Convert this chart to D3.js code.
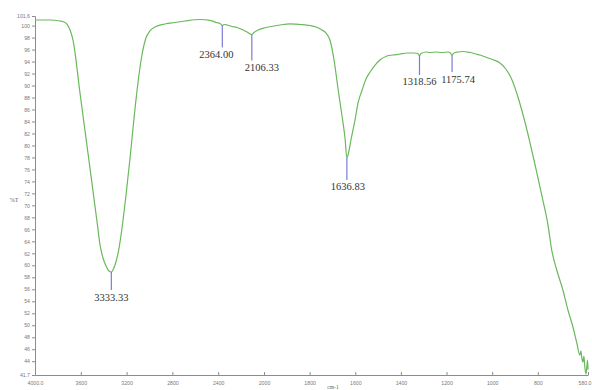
<!DOCTYPE html>
<html>
<head>
<meta charset="utf-8">
<script src="https://cdn.jsdelivr.net/npm/d3@7/dist/d3.min.js"></script>
<style>
  html, body { margin: 0; padding: 0; background: #fff; }
  svg { display: block; }
</style>
</head>
<body>
<svg id="chart" width="592" height="390"></svg>
<script>
// FTIR spectrum: wavenumber (cm-1) vs transmittance (%T)
const wavenumber = [
  4000, 3869, 3782, 3747, 3721, 3694, 3668, 3607, 3520, 3458, 3432, 3406, 3380, 3354,
  3333.33, 3319, 3293, 3266, 3240, 3205, 3170, 3135, 3100, 3066, 3031, 2996, 2952,
  2865, 2778, 2690, 2559, 2472, 2410, 2384, 2364.00, 2349, 2323, 2279, 2236, 2192, 2148,
  2106.33, 2087, 2052, 2000, 1974, 1930, 1886, 1842, 1798, 1772, 1746, 1728, 1711, 1693,
  1676, 1658, 1645, 1636.83, 1627, 1619, 1601, 1588, 1570, 1553, 1535, 1513, 1492, 1461,
  1435, 1404, 1373, 1343, 1325, 1318.56, 1312, 1290, 1272, 1246, 1220, 1194, 1183,
  1175.74, 1167, 1150, 1128, 1097, 1071, 1053, 1018, 992, 966, 940, 913, 887, 861, 835,
  809, 782, 756, 739, 717, 690, 668, 646, 629, 616, 611, 607, 602, 598, 594, 589, 585,
  582, 580
];
const transmittance = [
  100.93, 100.93, 100.77, 100.60, 100.26, 99.26, 97.59, 88.75, 76.24, 67.23, 63.39, 61.22,
  59.89, 59.05, 58.88, 59.22, 60.55, 62.89, 66.23, 71.73, 77.91, 84.58, 90.59, 95.09,
  97.93, 99.10, 99.76, 100.27, 100.52, 100.77, 101.02, 100.88, 100.48, 100.35, 100.01,
  100.18, 100.10, 99.85, 99.68, 99.35, 98.93, 98.51, 98.85, 99.26, 99.60, 99.81, 100.10,
  100.27, 100.18, 100.01, 99.76, 99.26, 98.76, 97.60, 94.26, 89.59, 84.91, 81.24, 77.91,
  79.24, 80.91, 84.25, 87.08, 89.25, 91.09, 92.26, 93.42, 94.26, 94.93, 95.09, 95.26,
  95.43, 95.43, 95.34, 94.93, 95.34, 95.59, 95.51, 95.59, 95.51, 95.59, 95.43, 95.09,
  95.43, 95.59, 95.68, 95.51, 95.26, 95.09, 94.59, 94.26, 93.76, 92.76, 90.92, 88.08,
  84.58, 80.58, 76.24, 71.57, 66.89, 62.55, 59.22, 55.88, 52.54, 49.71, 47.04, 45.03,
  45.70, 44.53, 43.87, 44.87, 43.03, 41.86, 43.20, 44.20, 42.60
];

// Labelled absorption bands
const peakWavenumbers = [3333.33, 2364.00, 2106.33, 1636.83, 1318.56, 1175.74];
const peakLabels = ["3333.33", "2364.00", "2106.33", "1636.83", "1318.56", "1175.74"];

// Axis ticks
const xTicks = [4000, 3600, 3200, 2800, 2400, 2000, 1800, 1600, 1400, 1200, 1000, 800, 580];
const xTickLabels = ["4000.0", "3600", "3200", "2800", "2400", "2000", "1800", "1600",
  "1400", "1200", "1000", "800", "580.0"];
const yTicks = [41.7, 44, 46, 48, 50, 52, 54, 56, 58, 60, 62, 64, 66, 68, 70, 72, 74, 76,
  78, 80, 82, 84, 86, 88, 90, 92, 94, 96, 98, 100, 101.6];
const yTickLabels = ["41.7", "44", "46", "48", "50", "52", "54", "56", "58", "60", "62",
  "64", "66", "68", "70", "72", "74", "76", "78", "80", "82", "84", "86", "88", "90", "92",
  "94", "96", "98", "100", "101.6"];

const svg = d3.select("#chart");

// x axis changes scale at 2000 cm-1 (the low-wavenumber half is expanded)
const x = d3.scaleLinear().domain([4000, 2000, 580]).range([35, 264, 588]);
const y = d3.scaleLinear().domain([41.7, 101.6]).range([375, 16]);

const axisColor = "#8c8c8c";
const tickText = "#7a7a7a";

// y axis
const yAxis = svg.append("g")
  .attr("transform", "translate(35,0)")
  .call(d3.axisLeft(y).tickValues(yTicks).tickSize(3).tickPadding(2)
    .tickFormat((d, i) => yTickLabels[i]));
yAxis.select(".domain").attr("stroke", axisColor);
yAxis.selectAll(".tick line").attr("stroke", axisColor);
yAxis.selectAll("text").attr("fill", tickText).attr("font-size", 5.2)
  .attr("font-family", "Liberation Sans, Arial, sans-serif");

// x axis
const xAxis = svg.append("g")
  .attr("transform", "translate(0,375)")
  .call(d3.axisBottom(x).tickValues(xTicks).tickSize(-3).tickSizeOuter(0).tickPadding(6)
    .tickFormat((d, i) => xTickLabels[i]));
xAxis.select(".domain").attr("stroke", axisColor);
xAxis.selectAll(".tick line").attr("stroke", axisColor);
xAxis.selectAll("text").attr("fill", tickText).attr("font-size", 5.2)
  .attr("font-family", "Liberation Sans, Arial, sans-serif");
// keep the last label inside the right edge
xAxis.selectAll(".tick").filter(d => d === xTicks[xTicks.length - 1])
  .select("text").attr("text-anchor", "end").attr("dx", 3);

// axis titles
svg.append("text").attr("x", 14).attr("y", 202).attr("text-anchor", "middle")
  .attr("font-size", 6).attr("fill", "#666")
  .attr("font-family", "Liberation Serif, serif").text("%T");
svg.append("text").attr("x", 333).attr("y", 388.5).attr("text-anchor", "middle")
  .attr("font-size", 5.5).attr("fill", "#666")
  .attr("font-family", "Liberation Serif, serif").text("cm-1");

// spectrum trace
const points = wavenumber.map((w, i) => [w, transmittance[i]]);
const line = d3.line()
  .x(d => x(d[0]))
  .y(d => y(d[1]))
  .curve(d3.curveMonotoneX);

svg.append("path")
  .datum(points)
  .attr("fill", "none")
  .attr("stroke", "#6ab85c")
  .attr("stroke-width", 1.2)
  .attr("stroke-linejoin", "round")
  .attr("d", line);

// peak markers: a drop line under each band and its wavenumber below
const labelLayout = {
  "3333.33": { len: 18, dx: 0 },
  "2364.00": { len: 22, dx: -6 },
  "2106.33": { len: 26, dx: 10 },
  "1636.83": { len: 22, dx: 1 },
  "1318.56": { len: 19, dx: 0 },
  "1175.74": { len: 17, dx: 6 }
};

peakWavenumbers.forEach((w, i) => {
  const idx = wavenumber.indexOf(w);
  const t = transmittance[idx];
  const px = x(w), py = y(t);
  const lay = labelLayout[peakLabels[i]];
  svg.append("line")
    .attr("x1", px).attr("x2", px)
    .attr("y1", py).attr("y2", py + lay.len)
    .attr("stroke", "#7c7cd8").attr("stroke-width", 1.2);
  svg.append("text")
    .attr("x", px + lay.dx).attr("y", py + lay.len + 10.5)
    .attr("text-anchor", "middle")
    .attr("font-size", 10.5)
    .attr("font-family", "Liberation Serif, 'Times New Roman', serif")
    .attr("fill", "#333")
    .text(peakLabels[i]);
});
</script>
</body>
</html>
